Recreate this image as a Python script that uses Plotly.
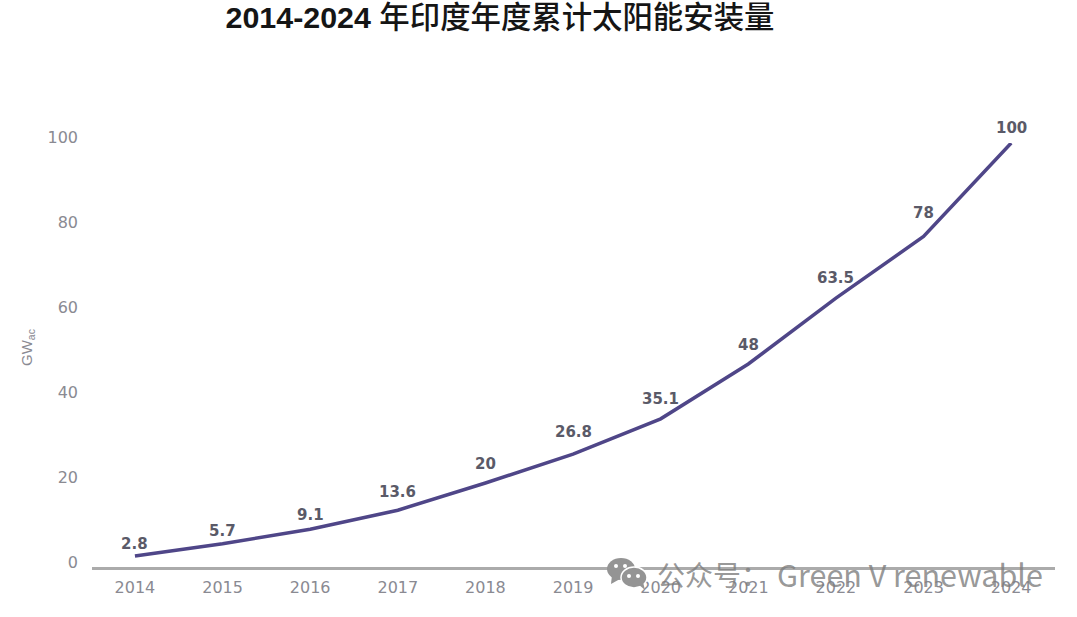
import plotly.graph_objects as go

years = ["2014","2015","2016","2017","2018","2019","2020","2021","2022","2023","2024"]
values = [2.8,5.7,9.1,13.6,20,26.8,35.1,48,63.5,78,100]
labels = ["2.8","5.7","9.1","13.6","20","26.8","35.1","48","63.5","78","100"]
label_shift = [12,13,14,18,19,22,20,19,20,24,15]
y_ticks = [0,20,40,60,80,100]
title_latin = "2014-2024"
title_cjk = "年印度年度累计太阳能安装量"
y_title = "GW<sub>ac</sub>"
watermark_cjk = "公众号："
watermark_latin = "Green V renewable"

L, R, T, B = 92, 22, 143, 49
W, H = 1077, 617
def px(x): return (x - L) / (W - L - R)
def py(y): return (H - B - y) / (H - T - B)

def ellipse(x0, y0, x1, y1, color, line=None):
    return dict(type="circle", xref="paper", yref="paper", x0=px(x0), x1=px(x1), y0=py(y1), y1=py(y0),
                fillcolor=color, line=dict(width=1.5 if line else 0, color=line or color), layer="above")
def poly(points, color):
    path = "M " + " L ".join(f"{px(a):.5f},{py(b):.5f}" for a, b in points) + " Z"
    return dict(type="path", xref="paper", yref="paper", path=path, fillcolor=color, line=dict(width=0), layer="above")

ICON = "#949494"
icon = [
    ellipse(607, 558, 635, 580, ICON),
    poly([(612, 575), (611, 584), (620, 579)], ICON),
    ellipse(614, 564, 618, 568, "white"),
    ellipse(623, 564, 627, 568, "white"),
    ellipse(621, 567, 647, 588, ICON, "white"),
    poly([(638, 584), (645, 590), (643, 582)], ICON),
    ellipse(627, 574, 631, 578, "white"),
    ellipse(636, 574, 640, 578, "white"),
]

annotations = [
    dict(x=i, y=v, xref="x", yref="y", text=t, yshift=s, showarrow=False, xanchor="center", yanchor="middle",
         font=dict(family="DejaVu Sans", size=15, color="#5a5a68", weight="bold"))
    for i, (v, t, s) in enumerate(zip(values, labels, label_shift))
]
annotations.append(dict(text=watermark_cjk, x=px(655), y=py(574), xref="paper", yref="paper", showarrow=False,
                        xanchor="left", yanchor="middle",
                        font=dict(family="Noto Sans CJK SC", size=28, color="rgba(125,125,125,0.8)")))
annotations.append(dict(text=watermark_latin, x=px(1045), y=py(574), xref="paper", yref="paper", showarrow=False,
                        xanchor="right", yanchor="middle",
                        font=dict(family="Noto Sans CJK SC", size=30.5, color="rgba(125,125,125,0.8)")))
annotations.append(dict(text=y_title, x=px(27), y=py(348), xref="paper", yref="paper", showarrow=False,
                        textangle=-90, xanchor="center", yanchor="middle",
                        font=dict(family="Liberation Sans", size=15, color="#8a8a92")))

fig = go.Figure(go.Scatter(
    x=years, y=values, mode="lines",
    line=dict(color="#4f4688", width=3.5),
    cliponaxis=False,
))
fig.update_layout(
    width=W, height=H,
    margin=dict(l=L, r=R, t=T, b=B),
    paper_bgcolor="white", plot_bgcolor="white",
    showlegend=False,
    title=dict(text=f"<b>{title_latin}</b> {title_cjk}", x=500/W, xanchor="center", y=1-17/H, yanchor="middle",
               yref="container", xref="container", automargin=False,
               font=dict(family="Liberation Sans, Noto Sans CJK SC", size=30.4, color="#151515", weight=500)),
    xaxis=dict(type="category", range=[-0.49,10.5], showgrid=False, zeroline=False, automargin=False,
               showline=False, ticks="", ticklabelstandoff=8,
               tickfont=dict(family="DejaVu Sans", size=16, color="#8a8a92")),
    yaxis=dict(range=[0,100], tickvals=y_ticks, showgrid=False, zeroline=True, zerolinecolor="#ababab",
               zerolinewidth=2.5, ticks="", automargin=False, ticklabelstandoff=13, ticklabelshift=-6,
               tickfont=dict(family="DejaVu Sans", size=16, color="#8a8a92")),
    annotations=annotations,
    shapes=icon,
)
fig.write_html("out.html", post_script="document.body.style.margin='0';", config={"displayModeBar": False})
